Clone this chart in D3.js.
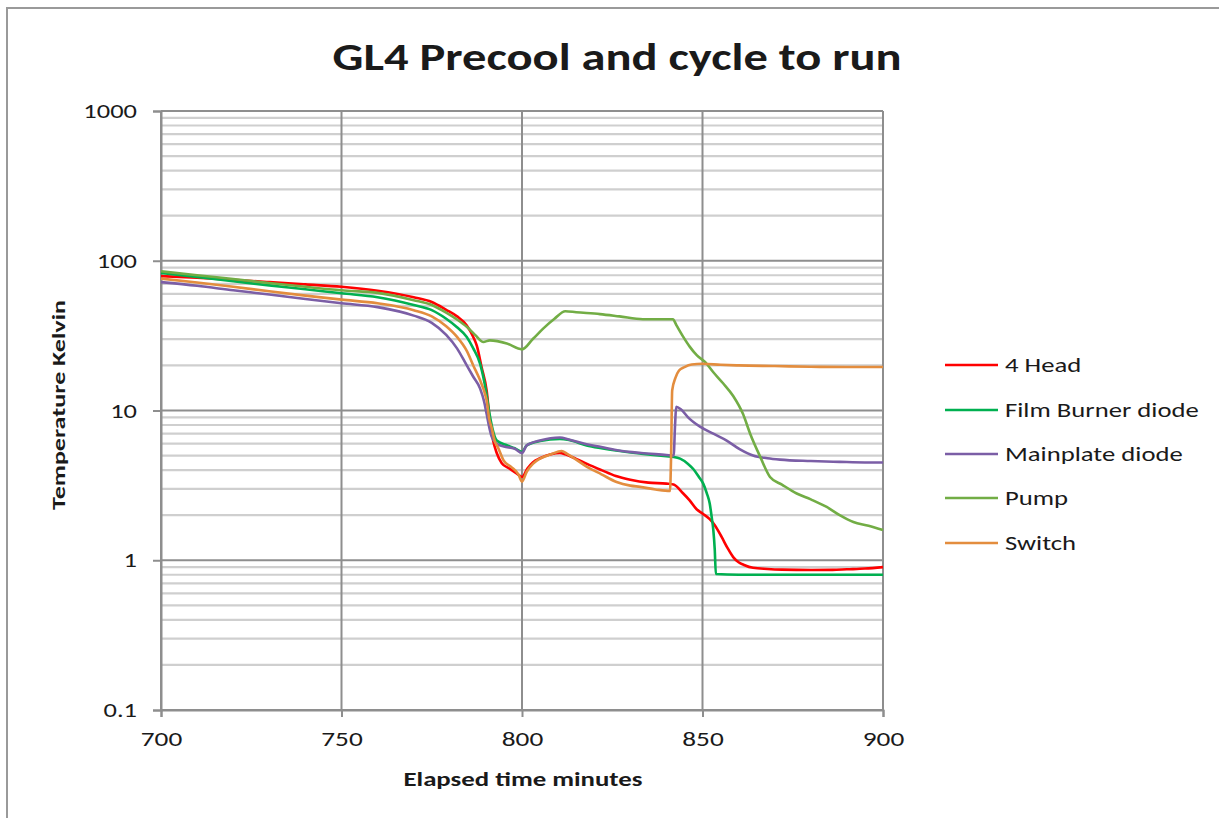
<!DOCTYPE html>
<html><head><meta charset="utf-8">
<script src="https://cdn.jsdelivr.net/npm/d3@7"></script>
<style>
html,body{margin:0;padding:0;background:#fff;}
text{font-family:Carlito,Calibri,Lato,"Open Sans",sans-serif;fill:#1a1a1a;}
</style></head>
<body>
<svg id="chart" width="1219" height="818"></svg>
<script>
const xTicks = [700, 750, 800, 850, 900];
const yTicks = [0.1, 1, 10, 100, 1000];
const yTickLabels = ["0.1", "1", "10", "100", "1000"];
const seriesNames = ["4 Head", "Film Burner diode", "Mainplate diode", "Pump", "Switch"];
const seriesColors = ["#ff0000", "#00b050", "#7b5ea6", "#72ad45", "#e38d3e"];

const head4 = [[700,79],[710,77],[720,74.5],[730,72],[740,69.5],[750,67],[760,63],[770,57],[775,53],[779,47],[782,42.5],[784.7,37],[786.5,31],[787.5,27],[788.8,19.5],[790.2,13.6],[791.1,8.6],[792,6.3],[793,5.2],[794.4,4.45],[796.5,4.1],[798.5,3.8],[800,3.6],[801.5,4.1],[803,4.5],[805,4.8],[808,5.1],[810.5,5.2],[812,5.1],[815,4.75],[818,4.4],[822,4.0],[826,3.65],[830,3.45],[835,3.3],[840,3.25],[842,3.2],[844.6,2.8],[846.5,2.5],[848.3,2.2],[850,2.05],[852,1.88],[853.5,1.7],[855.3,1.43],[857,1.2],[858.5,1.05],[860,0.97],[861.5,0.93],[864,0.89],[868,0.875],[872,0.866],[880,0.86],[886,0.862],[890,0.87],[895,0.88],[900,0.9]];
const filmBurner = [[700,83],[710,78],[720,73],[730,68.5],[740,64.5],[750,60.6],[760,57],[770,50.6],[775,46.8],[779,41],[782,36],[784.7,31],[786.5,26],[788.4,20.5],[790,13.6],[791,9.5],[791.8,7.6],[793,6.3],[795.8,5.86],[798,5.6],[800,5.3],[801.3,5.85],[805,6.25],[810.5,6.45],[813,6.35],[817.9,5.85],[822,5.6],[826,5.4],[833,5.15],[840,4.95],[842,4.9],[843.8,4.77],[846,4.4],[847.5,4.05],[849,3.6],[850.2,3.25],[851.2,2.8],[852,2.39],[852.6,1.9],[853,1.59],[853.4,1.17],[853.7,0.81],[860,0.8],[880,0.8],[900,0.8]];
const mainplate = [[700,72],[710,68],[720,63.5],[730,59.5],[740,55.5],[750,52],[760,49],[770,43],[775,38.5],[779,32],[782,26],[784.7,20],[786.5,16.8],[788.4,14],[789.5,11.5],[790.2,9.5],[791,7.6],[791.6,6.7],[793,6.0],[795,5.75],[798,5.55],[800,5.2],[801.3,5.85],[805,6.3],[810.5,6.6],[813,6.4],[817.9,5.95],[822,5.7],[826,5.45],[833,5.2],[840,5.05],[842,5.0],[842.4,8],[842.7,10.6],[844,10.2],[846,9.0],[849.3,7.8],[853,7.0],[856.7,6.3],[860.4,5.5],[864,5.0],[868,4.8],[871.5,4.7],[880,4.6],[888,4.54],[895,4.5],[900,4.5]];
const pump = [[700,85],[710,80],[720,75.5],[730,71],[740,67],[750,63.5],[760,61],[770,54.5],[775,50.6],[779,45],[782,40.5],[784.7,36.2],[787,32],[789.3,28.7],[791.1,29.4],[795.8,28],[800,25.6],[803,30],[806,35.5],[809,41],[812,46],[815,45.3],[821.6,44],[827,42.5],[833.5,40.7],[841.8,40.7],[842.8,37],[844.5,31.5],[846.5,26.6],[848.4,23.4],[850.7,21.1],[853,18],[855.7,15.2],[858.5,12.5],[861.2,9.5],[863.2,7.0],[866,4.9],[868.7,3.6],[872,3.2],[876.1,2.79],[880,2.55],[884.4,2.27],[888,2.0],[891.8,1.8],[896,1.7],[900,1.59]];
const switchS = [[700,76],[710,71.5],[720,67],[730,62.5],[740,58.5],[750,55],[760,52],[770,46.8],[775,42.5],[779,36.5],[782,31],[784.7,25],[786.5,20],[788.4,15.9],[789.5,13.5],[790.2,11.7],[791,8.6],[791.5,7.8],[792.5,6.2],[793.3,5.7],[795,4.6],[797,4.2],[799,3.75],[800,3.35],[801.3,3.9],[803,4.4],[805,4.77],[808,5.1],[811,5.37],[812.4,5.15],[815,4.7],[818,4.2],[822,3.75],[826.2,3.33],[830,3.15],[832.7,3.09],[837,2.97],[841,2.9],[841.3,5],[841.6,13.6],[842.5,16.5],[843.5,18.5],[845,19.5],[847,20.3],[850,20.5],[855,20.2],[860,20.0],[870,19.8],[880,19.6],[890,19.5],[900,19.5]];
const seriesData = [head4, filmBurner, mainplate, pump, switchS];

const svg = d3.select("#chart");
const W = 1219, H = 818;
const L = 161, R = 883, T = 111, B = 710;

function stretch(sel, factor) {
  sel.each(function () {
    const len = this.getComputedTextLength();
    d3.select(this).attr("textLength", len * factor).attr("lengthAdjust", "spacingAndGlyphs");
  });
}
function stretchTo(sel, len) {
  sel.attr("textLength", len).attr("lengthAdjust", "spacingAndGlyphs");
}

// outer frame
svg.append("rect").attr("x", 7).attr("y", 8).attr("width", W + 20).attr("height", H + 20)
  .attr("fill", "none").attr("stroke", "#9a9a9a").attr("stroke-width", 2);

const x = d3.scaleLinear().domain([700, 900]).range([L, R]);
const y = d3.scaleLog().domain([0.1, 1000]).range([B, T]);

// minor horizontal grid
const minor = [];
[0.1, 1, 10, 100].forEach(d => { for (let k = 2; k <= 9; k++) minor.push(d * k); });
svg.append("g").selectAll("line").data(minor).join("line")
  .attr("x1", L).attr("x2", R).attr("y1", d => y(d)).attr("y2", d => y(d))
  .attr("stroke", "#cfcfcf").attr("stroke-width", 2.2);

// major horizontal grid
svg.append("g").selectAll("line").data(yTicks).join("line")
  .attr("x1", L).attr("x2", R).attr("y1", d => y(d)).attr("y2", d => y(d))
  .attr("stroke", "#8e8e8e").attr("stroke-width", 2);

// vertical grid
svg.append("g").selectAll("line").data(xTicks).join("line")
  .attr("x1", d => x(d)).attr("x2", d => x(d)).attr("y1", T).attr("y2", B)
  .attr("stroke", "#8e8e8e").attr("stroke-width", 2);

// y axis
const yAxis = d3.axisLeft(y).tickValues(yTicks).tickSize(8).tickPadding(16)
  .tickFormat((d, i) => yTickLabels[i]);
const gy = svg.append("g").attr("transform", `translate(${L},0)`).call(yAxis);
gy.select(".domain").attr("stroke", "#8e8e8e").attr("stroke-width", 2);
gy.selectAll(".tick line").attr("stroke", "#8e8e8e").attr("stroke-width", 2);
gy.selectAll(".tick text").style("font-size", "21px").attr("fill", "#1a1a1a");
stretch(gy.selectAll(".tick text"), 1.26);

// x axis
const xAxis = d3.axisBottom(x).tickValues(xTicks).tickSize(7).tickPadding(14);
const gx = svg.append("g").attr("transform", `translate(0,${B})`).call(xAxis);
gx.select(".domain").attr("stroke", "#8e8e8e").attr("stroke-width", 2);
gx.selectAll(".tick line").attr("stroke", "#8e8e8e").attr("stroke-width", 2);
gx.selectAll(".tick text").style("font-size", "21px").attr("fill", "#1a1a1a");
stretch(gx.selectAll(".tick text"), 1.3);

// series lines
const line = d3.line().x(d => x(d[0])).y(d => y(d[1])).curve(d3.curveMonotoneX);
svg.append("g").selectAll("path").data(seriesData).join("path")
  .attr("d", line).attr("fill", "none")
  .attr("stroke", (d, i) => seriesColors[i]).attr("stroke-width", 2.6)
  .attr("stroke-linejoin", "round");

// title
const title = svg.append("text").attr("x", 617).attr("y", 70).attr("text-anchor", "middle")
  .style("font-size", "39px").style("font-weight", "bold").text("GL4 Precool and cycle to run");
stretchTo(title, 569);

// axis titles
const xt = svg.append("text").attr("x", 523).attr("y", 786).attr("text-anchor", "middle")
  .style("font-size", "20px").style("font-weight", "bold").text("Elapsed time minutes");
stretchTo(xt, 239);
const yt = svg.append("text").attr("transform", "translate(65,405) rotate(-90)").attr("text-anchor", "middle")
  .style("font-size", "19px").style("font-weight", "bold").text("Temperature Kelvin");
stretchTo(yt, 210);

// legend
const legY = [365, 410, 454, 498, 543];
const leg = svg.append("g").selectAll("g").data(seriesNames).join("g")
  .attr("transform", (d, i) => `translate(945,${legY[i]})`);
leg.append("line").attr("x1", 0).attr("x2", 53).attr("y1", 0).attr("y2", 0)
  .attr("stroke", (d, i) => seriesColors[i]).attr("stroke-width", 2.6);
const legText = leg.append("text").attr("x", 60).attr("y", 0).attr("dy", "0.35em")
  .style("font-size", "21px").text(d => d);
stretch(legText, 1.27);
</script>
</body></html>
